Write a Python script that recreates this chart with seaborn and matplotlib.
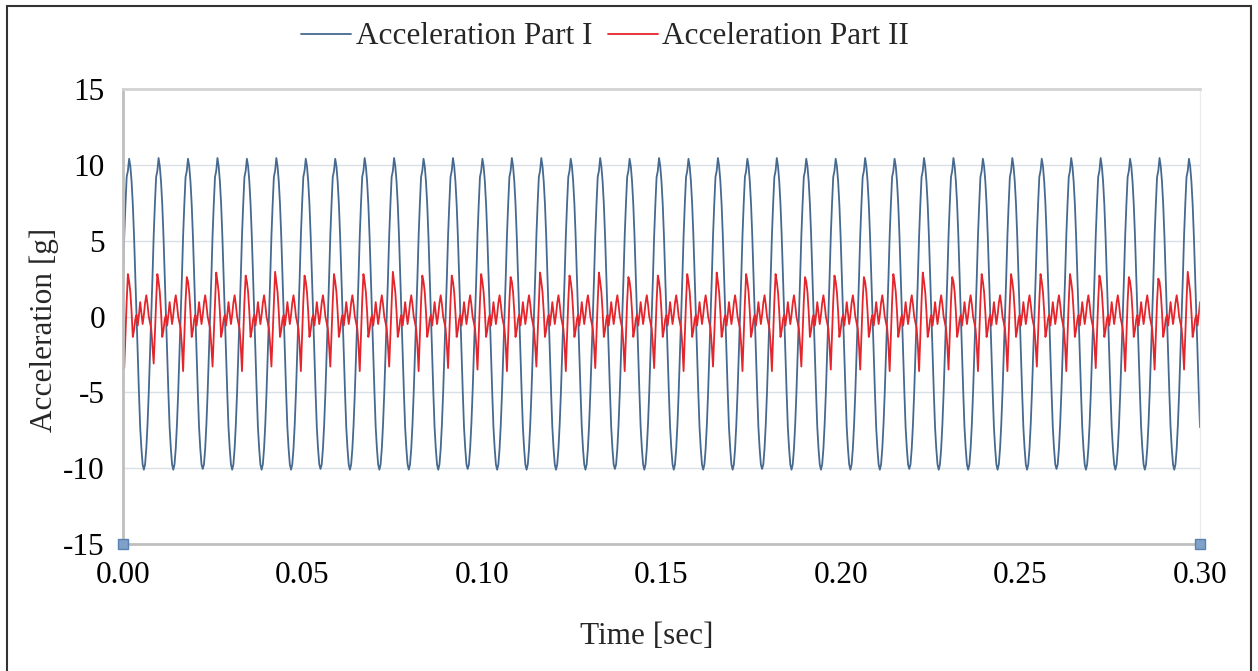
import numpy as np
import pandas as pd
import matplotlib
matplotlib.use("Agg")
import matplotlib.pyplot as plt
from matplotlib.patches import Rectangle
import seaborn as sns

# ---- data -------------------------------------------------------------
# Sampled record: 879 samples over 0.30 s, 24 samples per vibration cycle
duration = 0.30
n_intervals = 878
samples_per_cycle = 24
start_phase = 20  # position within the cycle of the first sample

# One cycle of each record [g], beginning at the Part II peak
part1_cycle = [9.6, 10.4, 9.9, 8.9, 7.4, 5.3, 2.8, 0.15, -2.5, -5.0, -7.3, -8.7,
               -9.75, -10.1, -9.75, -8.7, -7.1, -5.0, -2.5, 0.15, 2.5, 5.3, 7.4, 9.2]
part2_cycle = [2.8, 2.3, 1.6, 0.3, -1.35, -0.9, -0.2, 0.1, -0.6, 0.1, 0.95, 0.2,
               -0.5, 0.1, 0.9, 1.4, 0.8, 0.0, -0.4, -0.8, -1.9, -3.45, -1.2, 1.0]

# Cycle-by-cycle extremes [g]
part1_peaks = [10.4, 10.45, 10.4, 10.45, 10.4, 10.45, 10.4, 10.4, 10.45, 10.45,
               10.4, 10.45, 10.4, 10.45, 10.45, 10.4, 10.45, 10.4, 10.45, 10.4,
               10.45, 10.4, 10.45, 10.4, 10.4, 10.45, 10.4, 10.45, 10.45, 10.4,
               10.45, 10.4, 10.45, 10.45, 10.4, 10.45, 10.4]
part1_troughs = [-10.1, -10.1, -10.05, -10.1, -10.1, -10.1, -10.05, -10.1, -10.1,
                 -10.1, -10.1, -10.05, -10.1, -10.1, -10.1, -10.1, -10.05, -10.1,
                 -10.1, -10.1, -10.1, -10.05, -10.1, -10.1, -10.1, -10.1, -10.05,
                 -10.1, -10.1, -10.1, -10.1, -10.05, -10.1, -10.1, -10.1, -10.1]
part2_peaks = [2.8, 2.8, 2.6, 2.9, 2.7, 2.95, 2.7, 2.8, 2.8, 2.95,
               2.7, 2.7, 2.8, 2.6, 2.9, 2.7, 2.9, 2.6, 2.7,
               2.8, 2.9, 2.8, 2.8, 2.6, 2.7, 2.6, 2.8, 2.9, 2.6,
               2.8, 2.8, 2.8, 2.8, 2.7, 2.6, 2.5, 2.95]
part2_dips = [-3.4, -3.1, -3.6, -3.3, -3.6, -3.3, -3.6, -3.3, -3.6, -3.3,
              -3.6, -3.4, -3.5, -3.6, -3.3, -3.6, -3.4, -3.6, -3.4,
              -3.6, -3.3, -3.6, -3.6, -3.3, -3.5, -3.5, -3.6, -3.6, -3.5,
              -3.6, -3.6, -3.3, -3.6, -3.4, -3.6, -3.5, -3.5]

# End markers of the time window
marker_time = [0.00, 0.30]
marker_value = [-15, -15]

x_ticks = [0.00, 0.05, 0.10, 0.15, 0.20, 0.25, 0.30]
y_ticks = [-15, -10, -5, 0, 5, 10, 15]

# ---- assemble the records --------------------------------------------
idx = np.arange(n_intervals + 1)
time = idx * duration / n_intervals
phase = (idx + start_phase) % samples_per_cycle
acc1 = np.array(part1_cycle)[phase]
acc2 = np.array(part2_cycle)[phase]
acc1[phase == 1] = part1_peaks
acc1[phase == 13] = part1_troughs
acc2[phase == 0] = part2_peaks
acc2[phase == 21] = part2_dips

df = pd.concat([
    pd.DataFrame({"time": time, "acc": acc1, "series": "Acceleration Part I"}),
    pd.DataFrame({"time": time, "acc": acc2, "series": "Acceleration Part II"}),
])

# ---- style -------------------------------------------------------------
sns.set_theme(style="white")
plt.rcParams["font.family"] = ["Liberation Serif", "DejaVu Serif"]

blue = "#46698F"
red = "#E4252B"
axis_gray = "#BFBFBF"
grid_col = "#D9E0E8"
fs = 22.5

fig = plt.figure(figsize=(12.58, 6.71), dpi=100)
ax = fig.add_axes([123 / 1258, 1 - 544 / 671, (1200 - 123) / 1258, (544 - 89) / 671])

sns.lineplot(data=df, x="time", y="acc", hue="series",
             palette={"Acceleration Part I": blue, "Acceleration Part II": red},
             estimator=None, sort=False, linewidth=1.3, ax=ax, legend=False)

ax.plot(marker_time, marker_value, linestyle="none", marker="s", markersize=7.5,
        markerfacecolor="#7FA0C8", markeredgecolor="#5A82B0", clip_on=False, zorder=5)

ax.set_xlim(0, 0.30)
ax.set_ylim(-15, 15)
ax.set_xticks(x_ticks)
ax.set_xticklabels([f"{v:.2f}" for v in x_ticks])
ax.set_yticks(y_ticks)
ax.set_yticklabels([f"{v:d}" for v in y_ticks])
ax.tick_params(axis="both", labelsize=fs, colors=axis_gray, labelcolor="black",
               length=6, width=1.5, direction="out")
ax.tick_params(axis="x", pad=6)
ax.tick_params(axis="y", pad=7)

ax.yaxis.grid(True, color=grid_col, linewidth=1.0)
ax.xaxis.grid(False)
for side in ["left", "bottom"]:
    ax.spines[side].set_color(axis_gray)
    ax.spines[side].set_linewidth(2.0)
ax.spines["top"].set_color("#D3D3D3")
ax.spines["top"].set_linewidth(2.0)
ax.spines["right"].set_color("#ECECEC")
ax.spines["right"].set_linewidth(1.0)

ax.set_xlabel("Time [sec]", fontsize=fs)
ax.set_ylabel("Acceleration [g]", fontsize=fs)
ax.xaxis.set_label_coords(0.4865, -0.171)
ax.yaxis.set_label_coords(-0.059, 0.47)

handles = [plt.Line2D([], [], color=blue, linewidth=1.3),
           plt.Line2D([], [], color=red, linewidth=1.3)]
fig.legend(handles, ["Acceleration Part I", "Acceleration Part II"],
           loc="center", bbox_to_anchor=(605 / 1258, 1 - 37 / 671), ncol=2,
           frameon=False, fontsize=fs, handlelength=1.6, handletextpad=0.15,
           columnspacing=0.5)

# outer frame
fig.patches.append(Rectangle((7 / 1258, -0.02), (1251 - 7) / 1258, 1.02 - 6 / 671,
                             transform=fig.transFigure, fill=False,
                             edgecolor="#333333", linewidth=1.5))

fig.savefig("out.png", dpi=100)
